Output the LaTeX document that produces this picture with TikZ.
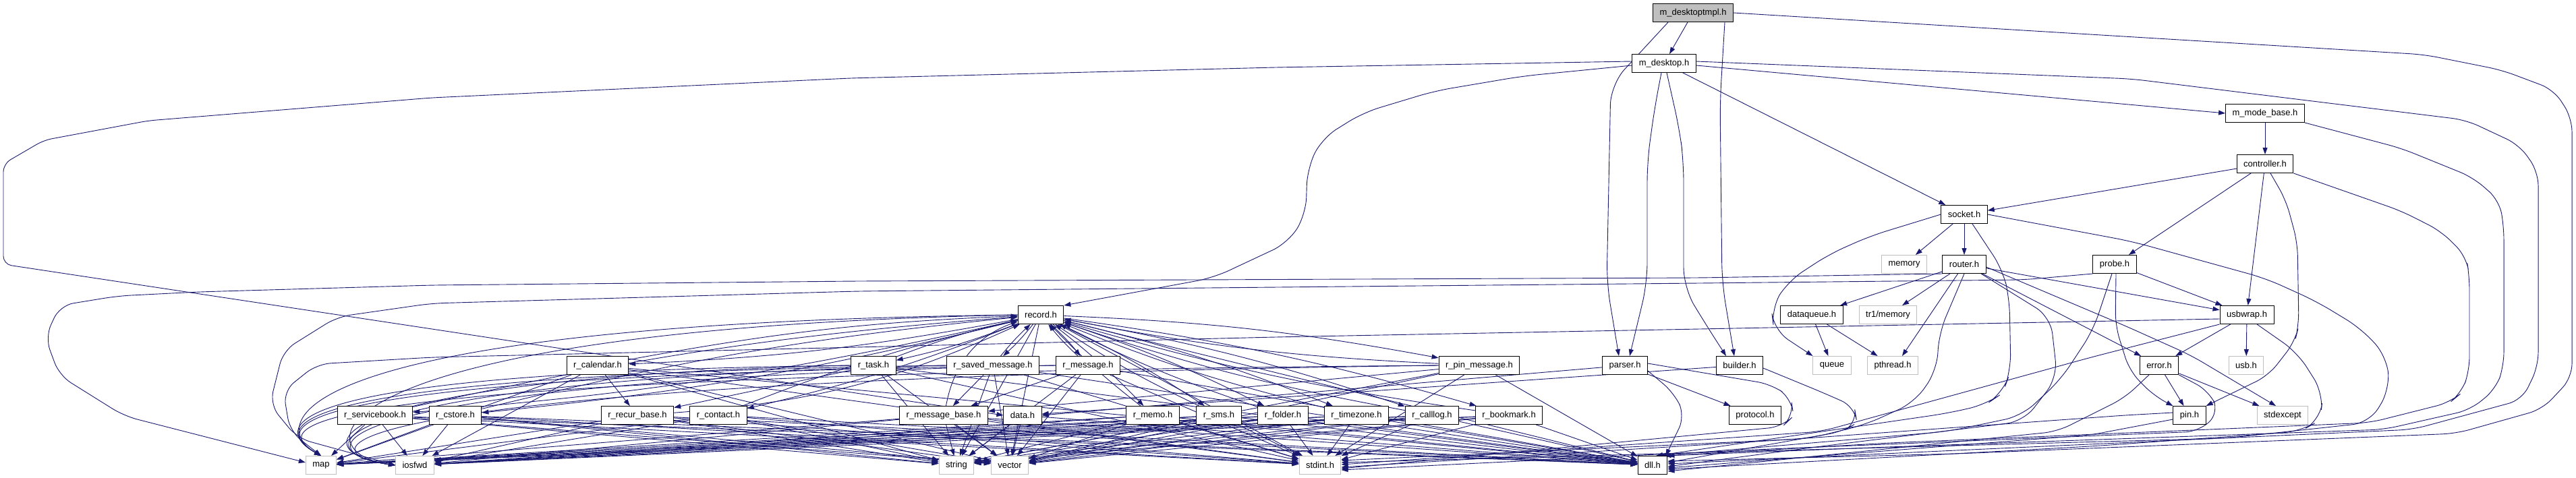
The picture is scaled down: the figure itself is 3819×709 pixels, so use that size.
\documentclass[tikz,border=0pt]{standalone}
\usepackage{fontspec}
\setmainfont{Liberation Sans}
\usetikzlibrary{arrows.meta}
\pgfdeclarelayer{bg}
\pgfsetlayers{bg,main}
\definecolor{edgec}{HTML}{191970}
\definecolor{grayb}{HTML}{BFBFBF}
\tikzset{
  nbox/.style={draw=black, line width=1pt, fill=white, rectangle, minimum height=27pt,
    inner xsep=10pt, inner ysep=0pt, font=\fontsize{13}{15}\selectfont, text=black},
  sbox/.style={nbox, draw=grayb},
  rbox/.style={nbox, fill=grayb},
  edge/.style={draw=edgec, line width=0.9pt, -{Triangle[length=10pt,width=7pt]}},
}
\begin{document}
\begin{tikzpicture}[x=1pt,y=-1pt]
\useasboundingbox (0,0) rectangle (3819,709);
% nodes
\node[rbox] (tmpl) at (2510,19) {m\_desktoptmpl.h};
\node[nbox] (desk) at (2467,94) {m\_desktop.h};
\node[nbox] (mode) at (3358,168) {m\_mode\_base.h};
\node[nbox] (ctrl) at (3358,243) {controller.h};
\node[nbox] (sock) at (2912,318) {socket.h};
\node[sbox] (mem) at (2823,392) {memory};
\node[nbox] (rout) at (2912,392) {router.h};
\node[nbox] (probe) at (3135,392) {probe.h};
\node[nbox] (rec) at (1543,467) {record.h};
\node[nbox] (dq) at (2686,467) {dataqueue.h};
\node[sbox] (tr1) at (2799,467) {tr1/memory};
\node[nbox] (usbw) at (3331,467) {usbwrap.h};
\node[nbox] (rcal) at (886,542) {r\_calendar.h};
\node[nbox] (rtask) at (1295,542) {r\_task.h};
\node[nbox] (rsaved) at (1472,542) {r\_saved\_message.h};
\node[nbox] (rmsg) at (1613,542) {r\_message.h};
\node[nbox] (rpin) at (2193,542) {r\_pin\_message.h};
\node[nbox] (parser) at (2409,542) {parser.h};
\node[nbox] (builder) at (2579,542) {builder.h};
\node[sbox] (queue) at (2716,542) {queue};
\node[sbox] (pthread) at (2806,542) {pthread.h};
\node[nbox] (error) at (3201,542) {error.h};
\node[sbox] (usb) at (3330,542) {usb.h};
\node[nbox] (rsb) at (556,616) {r\_servicebook.h};
\node[nbox] (rcstore) at (675,616) {r\_cstore.h};
\node[nbox] (rrecur) at (945,616) {r\_recur\_base.h};
\node[nbox] (rcontact) at (1065,616) {r\_contact.h};
\node[nbox] (rmb) at (1399,616) {r\_message\_base.h};
\node[nbox] (data) at (1516,616) {data.h};
\node[nbox] (rmemo) at (1709,616) {r\_memo.h};
\node[nbox] (rsms) at (1807,616) {r\_sms.h};
\node[nbox] (rfolder) at (1902,616) {r\_folder.h};
\node[nbox] (rtz) at (2011,616) {r\_timezone.h};
\node[nbox] (rcall) at (2123,616) {r\_calllog.h};
\node[nbox] (rbook) at (2237,616) {r\_bookmark.h};
\node[nbox] (protocol) at (2602,616) {protocol.h};
\node[nbox] (pin) at (3246,616) {pin.h};
\node[sbox] (stdexc) at (3384,616) {stdexcept};
\node[sbox] (map) at (476,690) {map};
\node[sbox] (iosfwd) at (615,690) {iosfwd};
\node[sbox] (string) at (1418,690) {string};
\node[sbox] (vector) at (1497,690) {vector};
\node[sbox] (stdint) at (1957,690) {stdint.h};
\node[nbox] (dll) at (2450,690) {dll.h};

\begin{pgfonlayer}{bg}
% top
\draw[edge] (tmpl) -- (desk);
\draw[edge,rounded corners=30pt] ([xshift=-37pt]tmpl.south) -- (2388,125) -- (2382,420) -- ([xshift=-9pt]parser.north);
\draw[edge,rounded corners=30pt] ([xshift=47pt]tmpl.south) -- (2550,150) -- (2553,420) -- ([xshift=-8pt]builder.north);
\draw[edge,rounded corners=20pt] (tmpl.east) -- (3594,81) -- (3709,104) -- (3786,133) -- (3813,175) -- (3813,560) -- (3769,607) -- (3641,643) -- (2900,673) -- ([yshift=6pt]dll.east);
% m_desktop
\draw[edge] ([yshift=-3pt]desk.east) -- (mode.west);
\draw[edge,rounded corners=20pt] ([yshift=3pt]desk.east) -- (3160,117) -- (3656,178) -- (3735,215) -- (3763,255) -- (3763,543) -- (3739,593) -- (3577,637) -- (2900,668) -- ([yshift=2pt]dll.east);
\draw[edge] (desk) -- (sock);
\draw[edge,rounded corners=25pt] ([yshift=-3pt]desk.west) -- (2257,113) -- (2127,135) -- (2021,167) -- (1960,205) -- (1938,250) -- (1936,318) -- (1910,360) -- (1799,412) -- (rec.north east);
\draw[edge,rounded corners=12pt] ([yshift=3pt]desk.west) -- (1890,100) -- (1260,116) -- (640,145) -- (220,179) -- (65,208) -- (5,243) -- (5,392) -- (data.west);
\draw[edge,rounded corners=30pt] ([xshift=-4pt]desk.south) -- (2453,160) -- (2442,240) -- (2442,420) -- ([xshift=7pt]parser.north);
\draw[edge,rounded corners=30pt] ([xshift=4pt]desk.south) -- (2490,193) -- (2496,240) -- (2496,427) -- (2530,483) -- ([xshift=-20pt]builder.north);
% mode / controller
\draw[edge] (mode) -- (ctrl);
\draw[edge,rounded corners=20pt] (mode.south east) -- (3560,220) -- (3666,263) -- (3705,297) -- (3712,335) -- (3712,543) -- (3700,577) -- (3662,608) -- (3534,637) -- (2800,663) -- ([xshift=-5pt]dll.north east);
\draw[edge] (ctrl) -- (sock);
\draw[edge] (ctrl) -- (probe);
\draw[edge] (ctrl) -- (usbw);
\draw[edge,rounded corners=20pt] ([xshift=8pt]ctrl.south) -- (3389,297) -- (3406,360) -- (3408,483) -- (3402,507) -- (3363,557) -- (pin.north east);
\draw[edge,rounded corners=20pt] (ctrl.south east) -- (3560,313) -- (3619,343) -- (3656,380) -- (3661,410) -- (3661,550) -- (3649,583) -- (3632,597) -- (3513,627) -- (2800,657) -- (dll.north east);
% socket
\draw[edge] (sock) -- (mem);
\draw[edge] (sock) -- (rout);
\draw[edge,rounded corners=25pt] (sock.west) -- (2773,350) -- (2712,377) -- (2651,417) -- (2626,457) -- (2630,490) -- (queue.north west);
\draw[edge,rounded corners=25pt] ([xshift=12pt]sock.south) -- (2969,400) -- (2979,443) -- (2981,550) -- (2969,583) -- (2944,600) -- (2887,613) -- ([xshift=5pt]dll.north);
\draw[edge,rounded corners=25pt] (sock.east) -- (3160,358) -- (3359,413) -- (3434,447) -- (3500,487) -- (3538,528) -- (3543,577) -- (3513,627) -- (3300,650) -- ([yshift=4pt]stdint.east);
% router
\draw[edge] (rout) -- (dq);
\draw[edge] (rout) -- (tr1);
\draw[edge] (rout) -- ([xshift=14pt]pthread.north);
\draw[edge,rounded corners=20pt] (rout.south west) -- (2520,412) -- (1270,417) -- (640,423) -- (294,433) -- (175,439) -- (89,453) -- (67,500) -- (88,557) -- (184,617) -- ([yshift=4pt]map.west);
\draw[edge] (rout) -- (usbw);
\draw[edge] (rout) -- (error);
\draw[edge,rounded corners=20pt] ([yshift=-4pt]rout.east) -- (3150,483) -- (3248,527) -- ([xshift=-10pt]stdexc.north);
\draw[edge,rounded corners=25pt] (rout.south) -- (2875,493) -- (2871,550) -- (2838,597) -- (2765,630) -- (2683,650) -- ([yshift=-3pt]stdint.east);
\draw[edge,rounded corners=25pt] ([xshift=25pt]rout.south) -- (3040,470) -- (3050,560) -- (3000,625) -- (2700,662) -- ([yshift=-2pt]dll.east);
% probe
\draw[edge] (probe) -- (usbw);
\draw[edge,rounded corners=20pt] ([xshift=2pt]probe.south) -- (3136,483) -- (3157,550) -- (3193,587) -- (pin.north west);
\draw[edge,rounded corners=25pt] ([xshift=-4pt]probe.south) -- (3103,490) -- (3055,563) -- (2997,617) -- (2887,640) -- ([xshift=10pt]dll.north);
\draw[edge,rounded corners=20pt] (probe.south west) -- (3000,415) -- (2520,420) -- (1270,432) -- (640,450) -- (500,470) -- (420,520) -- (400,600) -- (441,650) -- (iosfwd.west);
% dataqueue
\draw[edge] (dq) -- (queue);
\draw[edge] (dq) -- (pthread);
% usbwrap
\draw[edge] (usbw) -- (usb);
\draw[edge] (usbw) -- (error);
\draw[edge,rounded corners=25pt] ([xshift=15pt]usbw.south) -- (3406,523) -- (3444,583) -- (3440,623) -- (3410,640) -- (3100,662) -- ([yshift=-6pt]dll.east);
\draw[edge,rounded corners=20pt] (usbw.south west) -- (3100,530) -- (2700,640) -- ([yshift=1pt]stdint.east);
\draw[edge,rounded corners=20pt] ([yshift=-6pt]usbw.west) -- (2520,488) -- (1890,500) -- (1270,515) -- (640,530) -- (470,540) -- (420,580) -- (430,640) -- (map.north);
% error / pin
\draw[edge] (error) -- (pin);
\draw[edge] (error) -- (stdexc);
\draw[edge,rounded corners=20pt] ([xshift=-15pt]error.south) -- (3150,590) -- (3050,640) -- ([yshift=-9pt]dll.east);
\draw[edge,rounded corners=20pt] (error.south east) -- (3275,580) -- (3290,612) -- (3260,640) -- (2600,667) -- ([yshift=-7pt]stdint.east);
\draw[edge,rounded corners=15pt] ([yshift=4pt]pin.west) -- (3150,616) -- (2650,652) -- ([yshift=7pt]stdint.east);
\draw[edge,rounded corners=15pt] ([yshift=-6pt]pin.west) -- (3100,645) -- ([yshift=-4pt]dll.east);
% parser / builder
\draw[edge] (parser) -- (protocol);
\draw[edge] (parser) -- (data.east);
\draw[edge,rounded corners=20pt] ([yshift=-8pt]parser.east) -- (2482,583) -- (2498,617) -- ([xshift=-3pt]dll.north east);
\draw[edge,rounded corners=20pt] ([yshift=3pt]parser.east) -- (2626,570) -- (2655,590) -- (2659,617) -- (2642,633) -- ([yshift=-5pt]stdint.east);
\draw[edge] (builder) -- (data);
\draw[edge,rounded corners=20pt] ([yshift=-4pt]builder.east) -- (2704,583) -- (2749,603) -- (2753,627) -- (2732,640) -- ([yshift=4pt]dll.east);
% data
\draw[edge] (data) -- (string);
\draw[edge] (data) -- (vector);
\draw[edge] (data) -- (dll);
% record cluster
\foreach \s in {rcal,rtask,rsaved,rmsg,rpin,rsb,rcstore,rcontact,rmemo,rsms,rfolder,rtz,rcall,rbook}{
  \draw[edge] (rec) to[bend left=4] (\s);
  \draw[edge] (\s) to[bend left=4] (rec);
}
\draw[edge] (rcal) -- (rrecur);
\draw[edge] (rtask) -- (rrecur);
\draw[edge] (rrecur) to[bend right=10] (rec);
\draw[edge] (rmsg) -- (rmb);
\draw[edge] (rsaved) -- (rmb);
\draw[edge] (rpin) -- (rmb);
\draw[edge] (rmb) to[bend left=30] (rec);
\foreach \s in {rec,rcal,rtask,rsaved,rmsg,rpin,rsb,rcstore,rcontact,rrecur,rmb,rmemo,rsms,rfolder,rtz,rcall,rbook}{
  \draw[edge] (\s) -- (dll);
  \draw[edge] (\s) -- (stdint);
  \draw[edge] (\s) -- (string);
  \draw[edge] (\s) -- (vector);
}
\foreach \s/\yy in {rec/480,rtask/552,rsaved/556,rmsg/556,rpin/556}{
  \draw[edge] (\s.west) .. controls (420,\yy) and (395,630) .. (map.north);
  \draw[edge] (\s.west) .. controls (470,\yy+8) and (440,670) .. (iosfwd.west);
}
\foreach \s in {rcal,rsb,rcstore,rcontact,rrecur,rmb,rmemo,rsms,rfolder,rtz,rcall,rbook}{
  \draw[edge] (\s) -- (map);
  \draw[edge] (\s) -- (iosfwd);
}
\end{pgfonlayer}
\end{tikzpicture}
\end{document}
